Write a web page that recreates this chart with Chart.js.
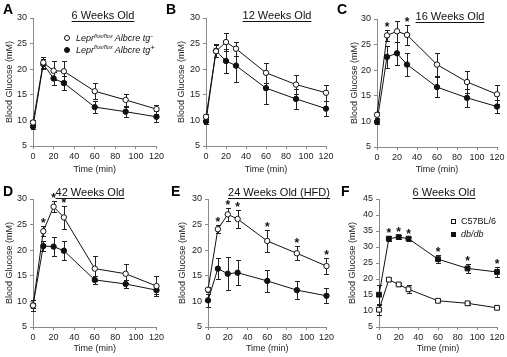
<!DOCTYPE html>
<html><head><meta charset="utf-8">
<script src="https://cdn.jsdelivr.net/npm/chart.js@4/dist/chart.umd.min.js"></script>
<style>
html,body{margin:0;padding:0;background:#fff;}
body{width:507px;height:357px;position:relative;overflow:hidden;font-family:'Liberation Sans',Arial,sans-serif;color:#111;}
.panel{position:absolute;}
.lbl{position:absolute;font-weight:bold;font-size:14px;line-height:14px;color:#000;}
.ttl{position:absolute;font-size:11px;line-height:11px;white-space:nowrap;text-decoration:underline;text-decoration-thickness:1px;text-underline-offset:1.5px;transform:translateX(-50%);color:#111;}
.leg{position:absolute;font-size:9px;line-height:12px;height:12px;white-space:nowrap;color:#111;}
.sup{position:relative;top:-3.5px;font-size:5.5px;}
.mk{position:absolute;box-sizing:border-box;border:1px solid #111;}
</style>
</head><body>
<div class="panel" style="left:0;top:0"><canvas id="cA" width="166" height="178"></canvas></div>
<div class="panel" style="left:166px;top:0"><canvas id="cB" width="170" height="178"></canvas></div>
<div class="panel" style="left:336px;top:0"><canvas id="cC" width="171" height="178"></canvas></div>
<div class="panel" style="left:0;top:178px"><canvas id="cD" width="166" height="179"></canvas></div>
<div class="panel" style="left:166px;top:178px"><canvas id="cE" width="170" height="179"></canvas></div>
<div class="panel" style="left:336px;top:178px"><canvas id="cF" width="171" height="179"></canvas></div>

<div class="lbl" style="left:3px;top:2px">A</div>
<div class="lbl" style="left:166px;top:2px">B</div>
<div class="lbl" style="left:337px;top:2px">C</div>
<div class="lbl" style="left:3px;top:184px">D</div>
<div class="lbl" style="left:171px;top:184px">E</div>
<div class="lbl" style="left:341px;top:184px">F</div>

<div class="ttl" style="left:103px;top:10px">6 Weeks Old</div>
<div class="ttl" style="left:277px;top:10px">12 Weeks Old</div>
<div class="ttl" style="left:450px;top:11px">16 Weeks Old</div>
<div class="ttl" style="left:90px;top:187px">42 Weeks Old</div>
<div class="ttl" style="left:279px;top:187px">24 Weeks Old (HFD)</div>
<div class="ttl" style="left:444px;top:187px">6 Weeks Old</div>

<div class="mk" style="left:64px;top:35px;width:6px;height:6px;border-radius:50%;background:#fff"></div>
<div class="leg" style="left:76px;top:32px;font-style:italic">Lepr<span class="sup">flox/flox</span> Albcre tg<span class="sup" style="font-size:8px;top:-3px">-</span></div>
<div class="mk" style="left:64px;top:46.5px;width:6px;height:6px;border-radius:50%;background:#111"></div>
<div class="leg" style="left:76px;top:43.5px;font-style:italic">Lepr<span class="sup">flox/flox</span> Albcre tg<span class="sup" style="font-size:8px;top:-3px">+</span></div>

<div class="mk" style="left:451px;top:218.5px;width:5px;height:5px;background:#fff"></div>
<div class="leg" style="left:461px;top:215px">C57BL/6</div>
<div class="mk" style="left:451px;top:231.5px;width:5px;height:5px;background:#111"></div>
<div class="leg" style="left:461px;top:228px;font-style:italic">db/db</div>

<script>
// ---------- data ----------
const timeMin = [0, 10, 20, 30, 60, 90, 120];
const xTickLabels = [0, 20, 40, 60, 80, 100, 120];
const yTickLabelsAE = [5, 10, 15, 20, 25, 30];
const yTickLabelsF = [5, 10, 15, 20, 25, 30, 35, 40, 45];

// A: 6 weeks
const aNeg = [9.6, 21.3, 19.7, 19.6, 15.7, 14.0, 12.2];
const aNegErr = [0.4, 1.0, 1.9, 2.0, 1.6, 1.1, 0.9];
const aPos = [8.8, 21.0, 18.2, 17.3, 12.6, 11.7, 10.7];
const aPosErr = [0.5, 0.9, 1.3, 1.3, 1.1, 1.0, 1.1];
// B: 12 weeks
const bNeg = [10.7, 23.5, 25.3, 24.0, 19.3, 17.0, 15.4];
const bNegErr = [0.5, 1.2, 1.7, 1.4, 2.0, 1.9, 1.6];
const bPos = [9.8, 23.6, 21.6, 20.7, 16.3, 14.2, 12.3];
const bPosErr = [0.6, 1.3, 2.4, 3.2, 3.0, 1.9, 1.5];
// C: 16 weeks
const cNeg = [11.3, 26.8, 27.6, 26.9, 21.1, 17.7, 15.3];
const cNegErr = [0.6, 1.0, 2.1, 2.0, 2.3, 2.1, 1.9];
const cPos = [9.9, 22.6, 23.3, 21.1, 16.7, 14.6, 12.9];
const cPosErr = [0.5, 2.1, 2.3, 2.3, 2.0, 1.7, 1.2];
const cStars = [1, 3];
// D: 42 weeks
const dNeg = [9.2, 23.7, 28.5, 26.4, 16.4, 15.4, 13.0];
const dNegErr = [0.5, 1.0, 1.1, 2.2, 2.4, 1.9, 2.0];
const dPos = [9.2, 20.8, 20.7, 19.9, 14.2, 13.4, 12.2];
const dPosErr = [1.0, 1.0, 1.8, 1.9, 0.8, 0.8, 0.7];
const dStars = [1, 2, 3];
// E: 24 weeks HFD
const eNeg = [12.3, 24.1, 27.0, 26.1, 21.8, 19.4, 16.9];
const eNegErr = [0.5, 0.8, 1.3, 1.7, 2.2, 1.4, 1.5];
const ePos = [10.2, 16.4, 15.4, 15.6, 14.0, 12.2, 11.1];
const ePosErr = [1.2, 2.1, 3.2, 2.4, 2.1, 1.8, 1.5];
const eStars = [1, 2, 3, 4, 5, 6];
// F: 6 weeks, C57BL/6 vs db/db
const fWt = [10.4, 19.8, 18.3, 16.8, 13.2, 12.4, 11.0];
const fWtErr = [1.5, 0.5, 0.5, 1.3, 0.4, 0.4, 0.3];
const fDb = [15.1, 32.6, 33.1, 32.6, 26.2, 23.3, 22.2];
const fDbErr = [3.0, 0.8, 0.7, 0.6, 1.2, 1.4, 1.6];
const fStars = [1, 2, 3, 4, 5, 6];

// ---------- drawing ----------
const FONT = "'Liberation Sans', Arial, sans-serif";
Chart.defaults.font.family = FONT;
Chart.defaults.color = '#222';

const errPlugin = {
  id: 'errbars',
  beforeDatasetsDraw(chart) {
    const ctx = chart.ctx, xs = chart.scales.x, ys = chart.scales.y;
    ctx.save();
    ctx.strokeStyle = '#222';
    ctx.lineWidth = 1;
    chart.data.datasets.forEach(ds => {
      if (!ds.errorBars) return;
      ds.data.forEach((p, i) => {
        const e = ds.errorBars[i];
        const px = Math.round(xs.getPixelForValue(p.x)) + 0.5;
        const yt = Math.round(ys.getPixelForValue(p.y + e)) + 0.5;
        const yb = Math.round(ys.getPixelForValue(p.y - e)) + 0.5;
        ctx.beginPath();
        ctx.moveTo(px, yt); ctx.lineTo(px, yb);
        ctx.moveTo(px - 2.5, yt); ctx.lineTo(px + 2.5, yt);
        ctx.moveTo(px - 2.5, yb); ctx.lineTo(px + 2.5, yb);
        ctx.stroke();
      });
    });
    ctx.restore();
  },
  afterDatasetsDraw(chart) {
    const ctx = chart.ctx, xs = chart.scales.x, ys = chart.scales.y;
    ctx.save();
    ctx.fillStyle = '#111';
    ctx.font = 'bold 12px ' + FONT;
    ctx.textAlign = 'center';
    ctx.textBaseline = 'alphabetic';
    chart.data.datasets.forEach(ds => {
      if (!ds.stars) return;
      ds.stars.forEach(i => {
        const p = ds.data[i];
        const px = xs.getPixelForValue(p.x);
        const yt = ys.getPixelForValue(p.y + ds.errorBars[i]);
        ctx.fillText('*', px, yt + 1);
      });
    });
    ctx.restore();
  }
};

function series(vals, errs, filled, style, radius, stars) {
  return {
    data: timeMin.map((t, i) => ({x: t, y: vals[i]})),
    errorBars: errs,
    stars: stars || null,
    borderColor: '#111',
    borderWidth: 1,
    pointStyle: style,
    pointRadius: radius,
    pointHoverRadius: radius,
    pointBorderWidth: 1,
    pointBorderColor: '#111',
    pointBackgroundColor: filled ? '#111' : '#fff',
    backgroundColor: filled ? '#111' : '#fff',
    tension: 0,
    clip: false
  };
}

function panel(id, layout, yTicks, datasets) {
  const axisCol = '#8a8a8a';
  new Chart(document.getElementById(id), {
    type: 'line',
    data: { datasets },
    options: {
      responsive: false,
      animation: false,
      events: [],
      layout: { padding: { left: 0, right: layout.padR, top: layout.padT, bottom: 0 } },
      plugins: { legend: { display: false }, tooltip: { enabled: false }, title: { display: false } },
      scales: {
        x: {
          type: 'linear',
          min: xTickLabels[0], max: xTickLabels[xTickLabels.length - 1],
          ticks: { stepSize: xTickLabels[1] - xTickLabels[0], font: { size: 9 }, color: '#222', padding: 2, maxRotation: 0, autoSkip: false },
          grid: { display: true, drawOnChartArea: false, drawTicks: true, tickLength: 3, color: axisCol },
          border: { display: true, color: axisCol, width: 1 },
          title: { display: true, text: 'Time (min)', font: { size: 9 }, color: '#222', padding: { top: 0, bottom: 2.6 } },
          afterFit(s) { s.height = layout.xH; }
        },
        y: {
          type: 'linear',
          min: yTicks[0], max: yTicks[yTicks.length - 1],
          ticks: { stepSize: yTicks[1] - yTicks[0], font: { size: 9 }, color: '#222', padding: 3 },
          grid: { display: true, drawOnChartArea: false, drawTicks: true, tickLength: 3, color: axisCol },
          border: { display: true, color: axisCol, width: 1 },
          title: { display: true, text: 'Blood Glucose (mM)', font: { size: 9 }, color: '#222', padding: { top: layout.yTitlePad, bottom: 0 } },
          afterFit(s) { s.width = layout.yW; }
        }
      }
    },
    plugins: [errPlugin]
  });
}

panel('cA', {yW: 33, padR: 8, padT: 18, xH: 32, yTitlePad: 4.6}, yTickLabelsAE, [
  series(aNeg, aNegErr, false, 'circle', 2.7),
  series(aPos, aPosErr, true, 'circle', 2.7)
]);
panel('cB', {yW: 40, padR: 10, padT: 18, xH: 32, yTitlePad: 10.6}, yTickLabelsAE, [
  series(bNeg, bNegErr, false, 'circle', 2.7),
  series(bPos, bPosErr, true, 'circle', 2.7)
]);
panel('cC', {yW: 41, padR: 10, padT: 19, xH: 31, yTitlePad: 13}, yTickLabelsAE, [
  series(cNeg, cNegErr, false, 'circle', 2.7, cStars),
  series(cPos, cPosErr, true, 'circle', 2.7)
]);
panel('cD', {yW: 33, padR: 8, padT: 21, xH: 30, yTitlePad: 4.2}, yTickLabelsAE, [
  series(dNeg, dNegErr, false, 'circle', 2.7, dStars),
  series(dPos, dPosErr, true, 'circle', 2.7)
]);
panel('cE', {yW: 42, padR: 9, padT: 21, xH: 30, yTitlePad: 11.6}, yTickLabelsAE, [
  series(eNeg, eNegErr, false, 'circle', 2.7, eStars),
  series(ePos, ePosErr, true, 'circle', 2.7)
]);
panel('cF', {yW: 43, padR: 10, padT: 21, xH: 30, yTitlePad: 11.6}, yTickLabelsF, [
  series(fWt, fWtErr, false, 'rect', 3.4),
  series(fDb, fDbErr, true, 'rect', 3.4, fStars)
]);
</script>
</body></html>
